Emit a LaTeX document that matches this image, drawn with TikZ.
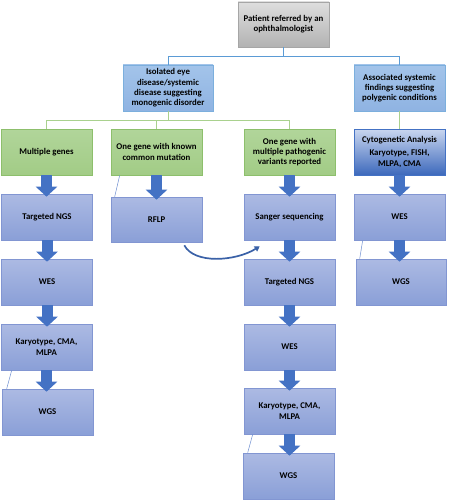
\documentclass[tikz,border=0pt]{standalone}
\usepackage{fontspec}
\setmainfont{Carlito}
\usetikzlibrary{arrows.meta}
\definecolor{arrowblue}{HTML}{4472C4}
\definecolor{linkblue}{HTML}{5B9BD5}
\definecolor{linkgreen}{HTML}{A9D18E}
\definecolor{thinblue}{HTML}{6F8FD0}
\definecolor{HTML9DC3E6}{HTML}{A3C4EA}
\definecolor{HTML8FB5E1}{HTML}{8FB3E2}
\definecolor{HTML8DBF6C}{HTML}{8DBF6C}
\definecolor{HTMLB1D59A}{HTML}{B1D59A}
\definecolor{HTMLA3CD86}{HTML}{A2CC86}
\definecolor{HTML8296D2}{HTML}{8296D2}
\definecolor{HTMLABB9E2}{HTML}{ACBAE3}
\definecolor{HTML8BA0D7}{HTML}{8A9FD7}
\definecolor{HTMLC9D6EF}{HTML}{C9D6EF}
\definecolor{HTML3D69BC}{HTML}{3D69BC}
\tikzset{
  box/.style={draw, line width=0.6pt, minimum width=91pt, minimum height=46pt, inner sep=1pt,
    align=center, font=\fontsize{8.8}{10.3}\selectfont\bfseries, text=black},
  graybox/.style={box, draw=black!35, top color=black!13, bottom color=black!30},
  lbluebox/.style={box, draw=linkblue!80, top color=HTML9DC3E6, bottom color=HTML8FB5E1},
  greenbox/.style={box, draw=HTML8DBF6C, top color=HTMLB1D59A, bottom color=HTMLA3CD86},
  bluebox/.style={box, draw=HTML8296D2, top color=HTMLABB9E2, bottom color=HTML8BA0D7},
  cytobox/.style={box, draw=arrowblue, top color=HTMLC9D6EF, bottom color=HTML3D69BC},
  tree/.style={line width=0.9pt},
  blockarrow/.style={line width=11pt, arrowblue, -{Triangle[width=21pt,length=10pt]}},
  thinline/.style={thinblue, line width=0.5pt},
}
\begin{document}
\begin{tikzpicture}[x=1pt,y=-1pt]
\useasboundingbox (0,0) rectangle (448,500);
% level 0 and 1
\node[graybox, minimum height=45pt] (top) at (283.5,24.5) {Patient referred by an\\ophthalmologist};
\node[lbluebox, minimum width=90pt] (iso) at (168,88) {Isolated eye\\disease/systemic\\disease suggesting\\monogenic disorder};
\node[lbluebox] (assoc) at (399.5,88) {Associated systemic\\findings suggesting\\polygenic conditions};
% level 2
\node[greenbox] (mg) at (46.5,152) {Multiple genes};
\node[greenbox] (kc) at (156.5,152) {One gene with known\\common mutation};
\node[greenbox] (mp) at (289.5,152) {One gene with\\multiple pathogenic\\variants reported};
\node[cytobox] (cyto) at (399.5,152) {Cytogenetic Analysis\\[3pt]Karyotype, FISH,\\MLPA, CMA};
% column 1
\node[bluebox] (a1) at (47,217) {Targeted NGS};
\node[bluebox] (a2) at (47,282) {WES};
\node[bluebox] (a3) at (46.5,347) {Karyotype, CMA,\\MLPA};
\node[bluebox] (a4) at (47.5,412) {WGS};
% column 2
\node[bluebox, minimum height=45pt] (b1) at (156.5,219.5) {RFLP};
% column 3
\node[bluebox] (c1) at (289.5,217) {Sanger sequencing};
\node[bluebox] (c2) at (289.5,282) {Targeted NGS};
\node[bluebox] (c3) at (289.5,347) {WES};
\node[bluebox] (c4) at (289.5,411) {Karyotype, CMA,\\MLPA};
\node[bluebox] (c5) at (288.5,476) {WGS};
% column 4
\node[bluebox] (d1) at (399.5,217) {WES};
\node[bluebox, minimum width=90pt] (d2) at (401,282) {WGS};
% tree connectors
\draw[tree, linkblue] (top.south) -- ++(0,9) -| (iso.north);
\draw[tree, linkblue] (top.south) ++(0,9) -| (assoc.north);
\draw[tree, linkgreen] (iso.south) -- ++(0,9) coordinate (g) -| (mg.north);
\draw[tree, linkgreen] (g) -| (kc.north);
\draw[tree, linkgreen] (g) -| (mp.north);
\draw[tree, linkgreen] (assoc.south) -- (cyto.north);
% block arrows
\foreach \u/\v in {mg/a1,a1/a2,a2/a3,a3/a4,kc/b1,mp/c1,c1/c2,c2/c3,c3/c4,c4/c5,cyto/d1,d1/d2}{
  \draw[blockarrow] (\u.south) -- ([yshift=-3pt]\v.north -| \u.south);
}
% curved arrow
\coordinate (cs) at ([xshift=-18pt,yshift=-3pt]b1.south east);
\coordinate (ce) at ([xshift=16pt,yshift=-6pt]c1.south west);
\draw[arrowblue!85!black, line width=1.7pt, -{Triangle[length=5pt,width=6pt]}]
  (cs) .. controls ([xshift=10pt,yshift=-19pt]cs) and ([xshift=-24pt,yshift=-15pt]ce) .. (ce);
% thin stray lines
\draw[thinline] ([xshift=9pt]kc.south west) -- ([xshift=4pt]b1.north west);
\draw[thinline] ([xshift=11pt]a3.south west) -- ([xshift=5pt]a4.north west);
\draw[thinline] ([xshift=9pt]c4.south west) -- ([xshift=5pt]c5.north west);
\draw[thinline] ([xshift=9pt]d1.south west) -- ([xshift=4pt]d2.north west);
\end{tikzpicture}
\end{document}
